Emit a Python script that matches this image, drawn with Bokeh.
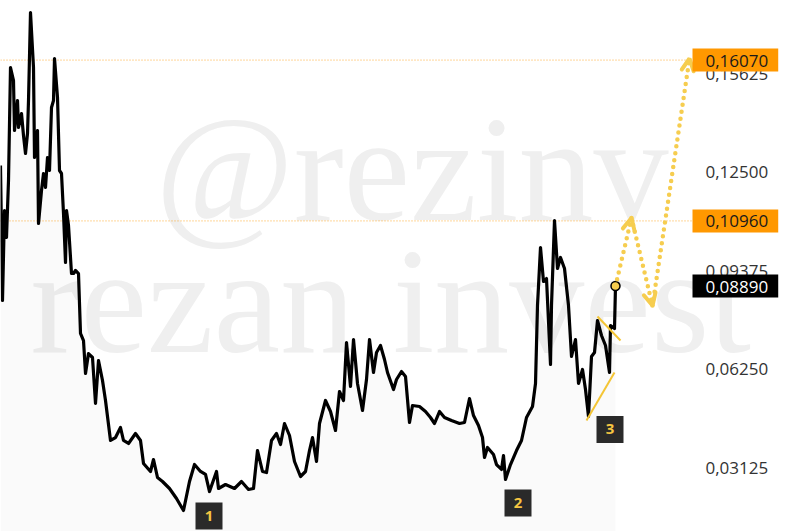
from bokeh.plotting import figure
from bokeh.models import Range1d, FixedTicker, CustomJSTickFormatter, Label, Arrow, OpenHead
from bokeh.core.properties import value
from bokeh.embed import file_html
from bokeh.resources import INLINE

# ---- data (bar index, price) ----
days = [0, 2, 4, 6, 8, 10, 13, 14, 17, 18, 21, 23, 25, 27, 28, 30, 33, 34, 37, 38,
        41, 43, 45, 47, 49, 51, 53, 54, 57, 59, 61, 63, 65, 66, 68, 71, 73, 75, 78, 80,
        83, 85, 88, 92, 95, 98, 102, 105, 110, 115, 120, 123, 128, 135, 140, 143, 150, 153, 157, 162,
        169, 176, 183, 189, 194, 200, 205, 209, 216, 218, 225, 234, 241, 248, 253, 257, 262, 266, 271, 276,
        280, 284, 289, 294, 300, 305, 309, 312, 316, 319, 325, 330, 335, 339, 343, 346, 350, 353, 357, 362,
        366, 369, 373, 376, 380, 384, 387, 393, 396, 401, 405, 409, 412, 419, 425, 430, 434, 439, 444, 451,
        459, 464, 469, 473, 478, 482, 484, 487, 493, 496, 501, 503, 505, 510, 516, 521, 526, 532, 535, 537,
        540, 543, 546, 550, 551, 554, 557, 560, 564, 568, 571, 575, 578, 582, 585, 588, 591, 594, 597, 601,
        605, 609, 610, 614, 615]
prices = [0.12721, 0.08431, 0.11291, 0.10433, 0.12244, 0.15835, 0.15422, 0.13833, 0.14786, 0.13928,
          0.14373, 0.13674, 0.13102, 0.13738, 0.14786, 0.17582, 0.15835, 0.12975, 0.13833, 0.10878,
          0.11926, 0.12467, 0.12022, 0.12975, 0.12562, 0.14564, 0.14786, 0.16121, 0.14881, 0.12562,
          0.12467, 0.11196, 0.09639, 0.11291, 0.10814, 0.09289, 0.09289, 0.09385, 0.09289, 0.07383,
          0.07160, 0.06112, 0.06747, 0.06620, 0.05159, 0.06525, 0.05889, 0.05254, 0.03983, 0.04078,
          0.04396, 0.03983, 0.03888, 0.04205, 0.03983, 0.03252, 0.02998, 0.03379, 0.02807, 0.02680,
          0.02458, 0.02140, 0.01759, 0.02680, 0.03220, 0.02998, 0.02903, 0.02362, 0.02998, 0.02458,
          0.02585, 0.02458, 0.02680, 0.02426, 0.02458, 0.03665, 0.02998, 0.02966, 0.03983, 0.04205,
          0.03856, 0.04523, 0.04142, 0.03316, 0.02839, 0.02998, 0.03665, 0.04078, 0.03316, 0.04523,
          0.05254, 0.04904, 0.04301, 0.05540, 0.05254, 0.07097, 0.05699, 0.07192, 0.05794, 0.04936,
          0.05921, 0.07192, 0.06144, 0.06779, 0.07002, 0.06557, 0.06144, 0.05603, 0.05921, 0.06175,
          0.06017, 0.04555, 0.05095, 0.05063, 0.04904, 0.04714, 0.04523, 0.04904, 0.04714, 0.04618,
          0.04523, 0.04555, 0.05317, 0.04777, 0.04460, 0.04078, 0.03443, 0.03761, 0.03538, 0.03220,
          0.03062, 0.03506, 0.02744, 0.03220, 0.03665, 0.03983, 0.04714, 0.05063, 0.05794, 0.08272,
          0.10115, 0.09035, 0.09130, 0.06398, 0.08272, 0.10973, 0.09448, 0.09798, 0.09448, 0.08272,
          0.06652, 0.07192, 0.05794, 0.06239, 0.05603, 0.04746, 0.06652, 0.06779, 0.07796, 0.07319,
          0.07002, 0.06144, 0.07637, 0.07542, 0.08890]

tick_values = [0.03125, 0.0625, 0.09375, 0.125, 0.15625]
level_prices = [0.1607, 0.1096]
level_labels = ["0,16070", "0,10960"]
last_price = 0.0889
last_label = "0,08890"

marker_days = [208.5, 517.5, 609.5]
marker_prices = [0.01584, 0.01997, 0.04333]
marker_text = ["1", "2", "3"]

trend_days = [[586, 614], [597, 620]]
trend_prices = [[0.04618, 0.06144], [0.07923, 0.07160]]

forecast_days = [615, 631, 652, 689]
forecast_prices = [0.0889, 0.1105, 0.0827, 0.1612]

YELLOW = "#F6CD4F"
ORANGE = "#FF9800"
FONT = "Open Sans"

p = figure(frame_width=780, frame_height=531,
           x_range=Range1d(0, 780), y_range=Range1d(0.010915, 0.179635),
           x_axis_location=None, y_axis_location="right",
           output_backend="svg", toolbar_location=None,
           min_border_left=0, min_border_top=0, min_border_bottom=0, min_border_right=0,
           background_fill_color="white", border_fill_color="white")
p.outline_line_color = None
p.grid.visible = False

ax = p.yaxis[0]
ax.ticker = FixedTicker(ticks=tick_values)
ax.formatter = CustomJSTickFormatter(code="return tick.toFixed(5).replace('.', ',');")
ax.axis_line_color = None
ax.major_tick_line_color = None
ax.minor_tick_line_color = None
ax.major_tick_out = 0
ax.major_tick_in = 0
ax.minor_tick_out = 0
ax.minor_tick_in = 0
ax.major_label_standoff = -75
ax.major_label_text_font = FONT
ax.major_label_text_font_size = "17px"
ax.major_label_text_color = "#333333"

# watermark
p.text(x=[30, 155], y=[0.0843, 0.1261], text=["rezan invest", "@rezinv"],
       text_font=value("Liberation Serif"), text_font_size="150px",
       text_color="#efefef", text_baseline="alphabetic", text_align="left")

# level lines (end where the price tags begin)
p.segment(x0=[0, 0], y0=level_prices, x1=[691, 691], y1=level_prices,
          line_color=ORANGE, line_width=1, line_dash="1 2", line_alpha=0.8)

# area + price line
p.varea(x=days, y1=0.010915, y2=prices, fill_color="black", fill_alpha=0.02)
p.line(days, prices, line_color="black", line_width=3.2, line_join="round")

# trend lines
p.multi_line(xs=trend_days, ys=trend_prices, line_color="#F4C535", line_width=2)

# forecast arrows
for i in range(len(forecast_days) - 1):
    p.add_layout(Arrow(x_start=forecast_days[i], y_start=forecast_prices[i],
                       x_end=forecast_days[i + 1], y_end=forecast_prices[i + 1],
                       line_color=YELLOW, line_width=4.5, line_dash="0 7", line_cap="round",
                       end=OpenHead(size=12, line_color=YELLOW, line_width=4, line_cap="round")))

# last point
p.scatter([days[-1]], [prices[-1]], size=9, fill_color=YELLOW, line_color="black", line_width=1.5)

# numbered markers
p.rect(x=marker_days, y=marker_prices, width=27, height=27, width_units="screen",
       height_units="screen", fill_color="#2a2a2a", line_color=None)
p.text(x=marker_days, y=marker_prices, text=marker_text, text_color="#F5C542",
       text_font=value(FONT), text_font_size="15px", text_font_style="bold",
       text_align="center", text_baseline="middle")

# price tags on the axis
for lp, lt in zip(level_prices, level_labels):
    p.add_layout(Label(x=692, y=lp, text=lt, level="overlay",
                       text_align="left", text_baseline="middle",
                       text_font=FONT, text_font_size="17px", text_color="#1a1a1a",
                       background_fill_color=ORANGE,
                       padding=dict(left=13, right=10, top=6, bottom=5)))
p.add_layout(Label(x=692, y=last_price, text=last_label, level="overlay",
                   text_align="left", text_baseline="middle",
                   text_font=FONT, text_font_size="17px", text_color="white",
                   background_fill_color="black",
                   padding=dict(left=13, right=10, top=6, bottom=5)))

open("out.html", "w").write(file_html(p, INLINE))
